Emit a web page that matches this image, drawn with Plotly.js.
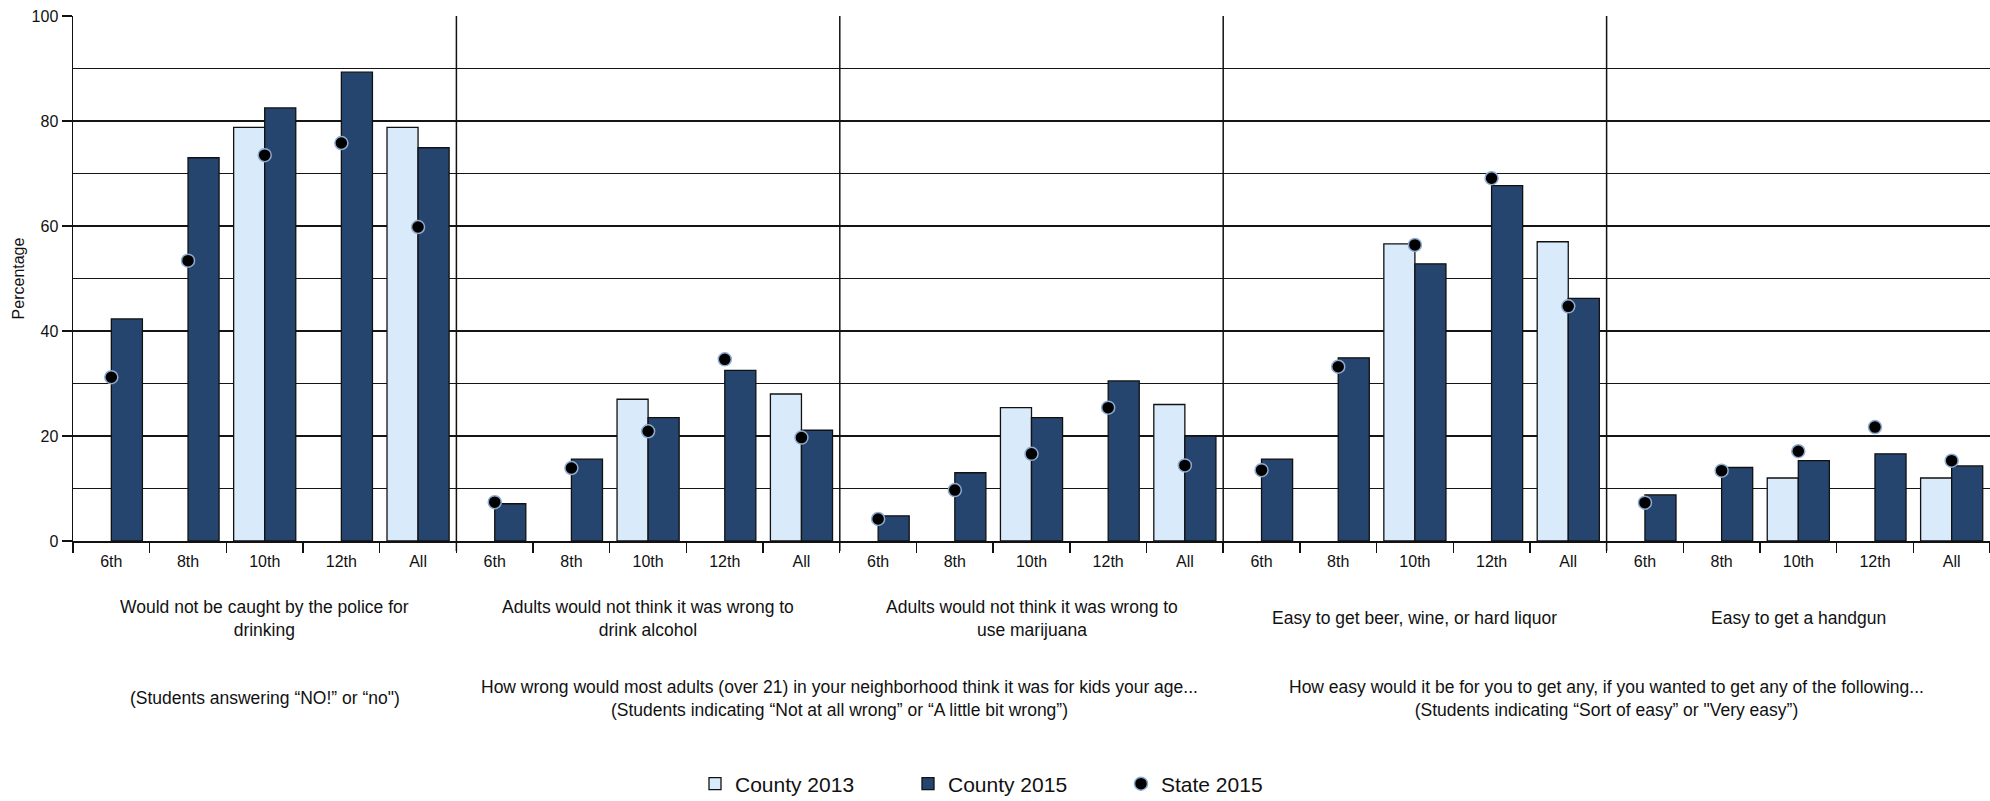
<!DOCTYPE html>
<html>
<head>
<meta charset="utf-8">
<script src="https://cdn.plot.ly/plotly-3.0.1.min.js"></script>
<style>
html, body { margin: 0; padding: 0; background: #ffffff; }
#chart { width: 1990px; height: 801px; }
</style>
</head>
<body>
<div id="chart"></div>
<script>
// ---- data ----
const grades = ['6th', '8th', '10th', '12th', 'All'];
const groupLabels = [
  'Would not be caught by the police for<br>drinking',
  'Adults would not think it was wrong to<br>drink alcohol',
  'Adults would not think it was wrong to<br>use marijuana',
  'Easy to get beer, wine, or hard liquor',
  'Easy to get a handgun'
];
const questionLabels = [
  '(Students answering “NO!” or “no")',
  'How wrong would most adults (over 21) in your neighborhood think it was for kids your age...<br>(Students indicating “Not at all wrong” or “A little bit wrong”)',
  'How easy would it be for you to get any, if you wanted to get any of the following...<br>(Students indicating “Sort of easy” or "Very easy”)'
];
const seriesNames = ['County 2013', 'County 2015', 'State 2015'];
const county2013 = [null, null, 78.8, null, 78.8,  null, null, 27.0, null, 28.0,  null, null, 25.4, null, 26.0,  null, null, 56.6, null, 57.0,  null, null, 12.0, null, 12.0];
const county2015 = [42.3, 73.0, 82.5, 89.3, 74.9,  7.1, 15.6, 23.5, 32.5, 21.1,  4.8, 13.0, 23.5, 30.5, 20.0,  15.6, 34.9, 52.8, 67.7, 46.2,  8.8, 14.0, 15.3, 16.6, 14.3];
const state2015  = [31.2, 53.4, 73.5, 75.8, 59.8,  7.4, 13.9, 20.9, 34.6, 19.7,  4.2, 9.7, 16.6, 25.4, 14.4,  13.5, 33.2, 56.4, 69.1, 44.7,  7.3, 13.4, 17.1, 21.7, 15.3];

// ---- derived ----
const nGroups = groupLabels.length;
const nPer = grades.length;
const xIdx = county2015.map((_, i) => i);
const tickText = xIdx.map(i => grades[i % nPer]);

// ---- layout helpers ----
const FONT = 'Liberation Sans, Arial, sans-serif';
const plotTop = 16, plotBottom = 541.5;
const py = p => (plotBottom - p) / (plotBottom - plotTop); // pixel y -> paper y

const traces = [
  {
    type: 'bar', name: seriesNames[0], x: xIdx, y: county2013,
    marker: { color: '#d9ebfb', line: { color: '#111111', width: 1.3 } },
    hoverinfo: 'y'
  },
  {
    type: 'bar', name: seriesNames[1], x: xIdx, y: county2015,
    marker: { color: '#26456e', line: { color: '#111111', width: 1.3 } },
    hoverinfo: 'y'
  },
  {
    type: 'scatter', mode: 'markers', name: seriesNames[2], x: xIdx, y: state2015,
    marker: { color: '#000000', size: 13, line: { color: '#8fabd0', width: 1.5 } },
    hoverinfo: 'y'
  }
];

const annotations = [];
groupLabels.forEach((t, g) => {
  annotations.push({
    xref: 'paper', yref: 'paper', x: (g * nPer + nPer / 2) / (nGroups * nPer), y: py(619),
    xanchor: 'center', yanchor: 'middle', showarrow: false, text: t,
    font: { family: FONT, size: 17.5, color: '#111111' }
  });
});
const questionX = [0.1, 0.4, 0.8];
questionLabels.forEach((t, k) => {
  annotations.push({
    xref: 'paper', yref: 'paper', x: questionX[k], y: py(699),
    xanchor: 'center', yanchor: 'middle', showarrow: false, text: t,
    font: { family: FONT, size: 17.5, color: '#111111' }
  });
});

const shapes = [];
for (let g = 1; g < nGroups; g++) {
  shapes.push({
    type: 'line', xref: 'paper', yref: 'paper', x0: g / nGroups, x1: g / nGroups,
    y0: 1, y1: py(551.5), line: { color: '#111111', width: 1.5 }
  });
}

const layout = {
  width: 1990, height: 801,
  margin: { l: 73, r: 0, t: plotTop, b: 801 - plotBottom, pad: 0 },
  paper_bgcolor: '#ffffff', plot_bgcolor: '#ffffff',
  font: { family: FONT, color: '#111111' },
  barmode: 'group', bargap: 0.19, bargroupgap: 0,
  showlegend: true,
  legend: {
    orientation: 'h', xref: 'container', yref: 'container',
    x: 695 / 1990, y: (801 - 784) / 801, xanchor: 'left', yanchor: 'middle',
    font: { family: FONT, size: 21, color: '#111111' }, entrywidth: 168, entrywidthmode: 'pixels'
  },
  xaxis: {
    type: 'linear', range: [-0.5, 24.5], fixedrange: true,
    tickmode: 'array', tickvals: xIdx, ticktext: tickText, ticks: '',
    tickfont: { family: FONT, size: 16, color: '#111111' },
    ticklabelstandoff: 5,
    showline: true, linecolor: '#111111', linewidth: 1.5,
    showgrid: false, zeroline: false,
    minor: { tickmode: 'linear', tick0: -0.5, dtick: 1, ticks: 'outside', ticklen: 10, tickwidth: 1.4, tickcolor: '#111111', showgrid: false }
  },
  yaxis: {
    range: [0, 100], fixedrange: true,
    tickmode: 'linear', tick0: 0, dtick: 20,
    ticks: 'outside', ticklen: 10, tickwidth: 1.4, tickcolor: '#111111',
    tickfont: { family: FONT, size: 16, color: '#111111' },
    showline: true, linecolor: '#111111', linewidth: 1.5,
    showgrid: true, gridcolor: '#151515', gridwidth: 1.4, zeroline: false,
    minor: { tickmode: 'linear', tick0: 0, dtick: 10, showgrid: true, gridcolor: '#151515', gridwidth: 1.4, ticks: '' },
    title: { text: 'Percentage', font: { family: FONT, size: 16, color: '#111111' }, standoff: 3 }
  },
  annotations: annotations,
  shapes: shapes
};

Plotly.newPlot('chart', traces, layout, { displayModeBar: false, staticPlot: true });
</script>
</body>
</html>
